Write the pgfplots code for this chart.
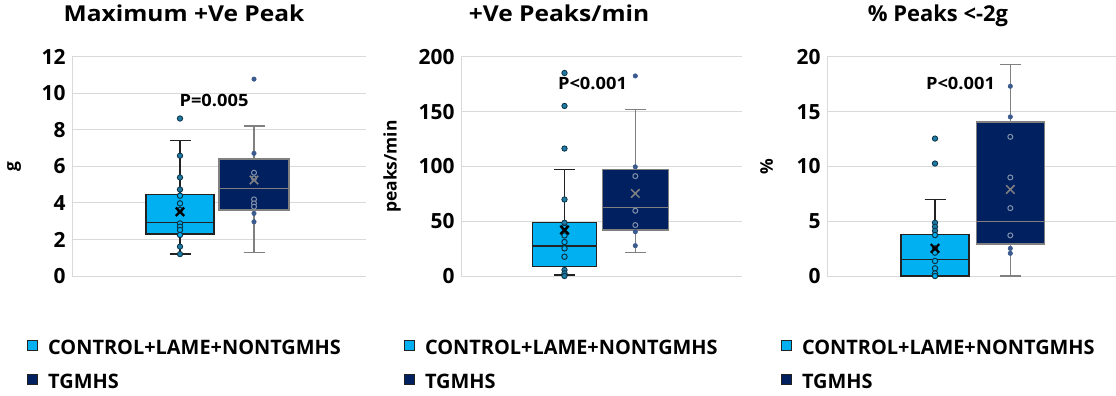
\documentclass[border=0pt]{standalone}
\usepackage{pgfplots}
\pgfplotsset{compat=1.18}
\usepgfplotslibrary{statistics}
\usepackage{fontspec}
\setmainfont{Open Sans}
\newfontfamily\titlefont{Open Sans}[FakeStretch=1.12]
\newfontfamily\pfont{Open Sans}[FakeStretch=1.08]

\definecolor{lightbox}{HTML}{00B0F0}
\definecolor{darkbox}{HTML}{002060}
\definecolor{lightpt}{HTML}{1E7AA3}
\definecolor{lightedge}{HTML}{0B3246}
\definecolor{darkpt}{HTML}{3B5A8E}
\definecolor{darkring}{HTML}{8392AB}
\definecolor{gridgray}{HTML}{D9D9D9}
\definecolor{edgeA}{HTML}{222222}
\definecolor{edgeB}{HTML}{808080}

\newcommand\ylab[2]{% offset, text
  \node[rotate=90, anchor=center, font=\bfseries\fontsize{17.5}{21}\selectfont]
    at ([xshift=#1]rel axis cs:0,0.5) {#2};}

\pgfplotsset{
  panel/.style={
    scale only axis, anchor=south west,
    xmin=0, ymin=0, xtick=\empty,
    axis y line*=left, axis x line*=bottom,
    axis line style={draw=gridgray, line width=1bp},
    ymajorgrids, grid style={draw=gridgray, line width=1bp},
    major tick length=0pt,
    clip=false,
    /pgf/number format/assume math mode=true,
    yticklabel style={font=\bfseries\fontsize{21}{25}\selectfont, xshift=-3bp},
    title style={anchor=base, font=\titlefont\bfseries\fontsize{22}{26}\selectfont},
    legend cell align=left,
    legend image code/.code={\draw[##1] (0bp,-3.3bp) rectangle (10bp,6.9bp);},
    legend style={at={(0,0)}, anchor=north west, draw=none, fill=none,
      inner sep=0pt, row sep=20bp, column sep=10.5bp,
      font=\bfseries\fontsize{20}{24}\selectfont,
      nodes={inner sep=0pt, text height=14.3bp, text depth=0pt}},
  },
  boxA/.style={fill=lightbox, draw=edgeA, line width=1.4bp, forget plot},
  boxB/.style={fill=darkbox, draw=edgeB, line width=1.4bp, forget plot},
  ptA/.style={only marks, mark=*, mark size=2.7bp,
    mark options={fill=lightpt, draw=lightedge, line width=0.8bp}, forget plot},
  ringA/.style={only marks, mark=*, mark size=2.7bp,
    mark options={fill=lightbox, draw=lightedge, line width=1bp}, forget plot},
  ptB/.style={only marks, mark=*, mark size=2.2bp,
    mark options={fill=darkpt, draw=darkpt, line width=0.6bp}, forget plot},
  ringB/.style={only marks, mark=*, mark size=2.5bp,
    mark options={fill=darkbox, draw=darkring, line width=1bp}, forget plot},
  meanA/.style={only marks, mark=x, mark size=6bp,
    mark options={draw=black, line width=2.2bp}, forget plot},
  meanB/.style={only marks, mark=x, mark size=6bp,
    mark options={draw=edgeB, line width=1.5bp}, forget plot},
  legendAB/.code={
    \addlegendimage{fill=lightbox, draw=edgeA, line width=0.8bp}
    \addlegendentry{CONTROL+LAME+NONTGMHS}
    \addlegendimage{fill=darkbox, draw=edgeA, line width=0.8bp}
    \addlegendentry{TGMHS}
  },
}

\begin{document}
\begin{tikzpicture}
\path[use as bounding box] (0,0) rectangle (1116bp,396bp);

% ---------- Maximum +Ve Peak ----------
\begin{axis}[panel, at={(72bp,120bp)}, width=294bp, height=219bp,
  xmax=294, ymax=12, ytick={0,2,...,12},
  title={Maximum +Ve Peak}, title style={at={(0.381,1)}, yshift=30bp},
  legend style={xshift=-45.3bp, yshift=-63.5bp}]
\addplot[boxA, boxplot/draw direction=y, boxplot prepared={lower whisker=1.20, lower quartile=2.30,
  median=2.92, upper quartile=4.47, upper whisker=7.41,
  draw position=108, box extend=68, whisker extend=21}] coordinates {};
\addplot[boxB, boxplot/draw direction=y, boxplot prepared={lower whisker=1.28, lower quartile=3.61,
  median=4.80, upper quartile=6.41, upper whisker=8.23,
  draw position=182, box extend=70, whisker extend=21}] coordinates {};
\addplot[ptA] coordinates {(108,8.63) (108,6.59) (108,5.40) (108,4.74) (108,1.61) (108,1.20)};
\addplot[ringA] coordinates {(108,4.40) (108,3.98) (108,3.62) (108,2.88) (108,2.70) (108,2.52) (108,2.25)};
\addplot[ptB] coordinates {(182,10.79) (182,6.72) (182,3.43) (182,2.97)};
\addplot[ringB] coordinates {(182,5.66) (182,5.35) (182,4.20) (182,3.98) (182,3.80)};
\addplot[meanA] coordinates {(108,3.52)};
\addplot[meanB] coordinates {(182,5.26)};
\node[font=\pfont\bfseries\fontsize{17}{20}\selectfont] at (axis cs:142,9.64) {P=0.005};
\ylab{-58bp}{g}
\pgfplotsset{legendAB}
\end{axis}

% ---------- +Ve Peaks/min ----------
\begin{axis}[panel, at={(461bp,120bp)}, width=281bp, height=219bp,
  xmax=281, ymax=200, ytick={0,50,...,200},
  title={+Ve Peaks/min}, title style={at={(0.349,1)}, yshift=30bp},
  legend style={xshift=-57.5bp, yshift=-63.5bp}]
\addplot[boxA, boxplot/draw direction=y, boxplot prepared={lower whisker=0.9, lower quartile=8.5,
  median=27.4, upper quartile=48.6, upper whisker=97.3,
  draw position=103.5, box extend=64.4, whisker extend=21}] coordinates {};
\addplot[boxB, boxplot/draw direction=y, boxplot prepared={lower whisker=21.3, lower quartile=41.9,
  median=62.6, upper quartile=97.3, upper whisker=152,
  draw position=174.3, box extend=66, whisker extend=21}] coordinates {};
\addplot[ptA] coordinates {(103.5,185.4) (103.5,155.3) (103.5,116.4) (103.5,69.9) (103.5,48.6) (103.5,5.5) (103.5,2.4) (103.5,0)};
\addplot[ringA] coordinates {(103.5,44) (103.5,37) (103.5,31) (103.5,25.2) (103.5,17.6)};
\addplot[ptB] coordinates {(174.3,182.7) (174.3,99.7) (174.3,40.4) (174.3,27.7)};
\addplot[ringB] coordinates {(174.3,91.2) (174.3,59.6) (174.3,46.5)};
\addplot[meanA] coordinates {(103.5,42)};
\addplot[meanB] coordinates {(174.3,75.4)};
\node[font=\pfont\bfseries\fontsize{17}{20}\selectfont] at (axis cs:131.5,175.7) {P<0.001};
\ylab{-69bp}{peaks/min}
\pgfplotsset{legendAB}
\end{axis}

% ---------- % Peaks <-2g ----------
\begin{axis}[panel, at={(827bp,120bp)}, width=289bp, height=219bp,
  xmax=289, ymax=20, ytick={0,5,...,20},
  title={\% Peaks <-2g}, title style={at={(0.384,1)}, yshift=30bp,
    font=\bfseries\fontsize{22}{26}\selectfont},
  legend style={xshift=-46.5bp, yshift=-63.5bp}]
\addplot[boxA, boxplot/draw direction=y, boxplot prepared={lower whisker=0, lower quartile=0,
  median=1.52, upper quartile=3.80, upper whisker=6.99,
  draw position=108, box extend=68, whisker extend=21}] coordinates {};
\addplot[boxB, boxplot/draw direction=y, boxplot prepared={lower whisker=0, lower quartile=2.92,
  median=4.98, upper quartile=14.07, upper whisker=19.3,
  draw position=183.3, box extend=68, whisker extend=21}] coordinates {};
\addplot[ptA] coordinates {(108,12.55) (108,10.27) (108,4.86) (108,4.50) (108,4.13)};
\addplot[ringA] coordinates {(108,3.74) (108,2.52) (108,2.13) (108,1.37) (108,0.70) (108,0.24) (108,0)};
\addplot[ptB] coordinates {(183.3,17.33) (183.3,14.53) (183.3,2.52) (183.3,2.07)};
\addplot[ringB] coordinates {(183.3,12.71) (183.3,9.0) (183.3,6.2) (183.3,3.71)};
\addplot[meanA] coordinates {(108,2.52)};
\addplot[meanB] coordinates {(183.3,7.9)};
\node[font=\pfont\bfseries\fontsize{17}{20}\selectfont] at (axis cs:133.5,17.57) {P<0.001};
\ylab{-60.3bp}{\%}
\pgfplotsset{legendAB}
\end{axis}
\end{tikzpicture}
\end{document}
